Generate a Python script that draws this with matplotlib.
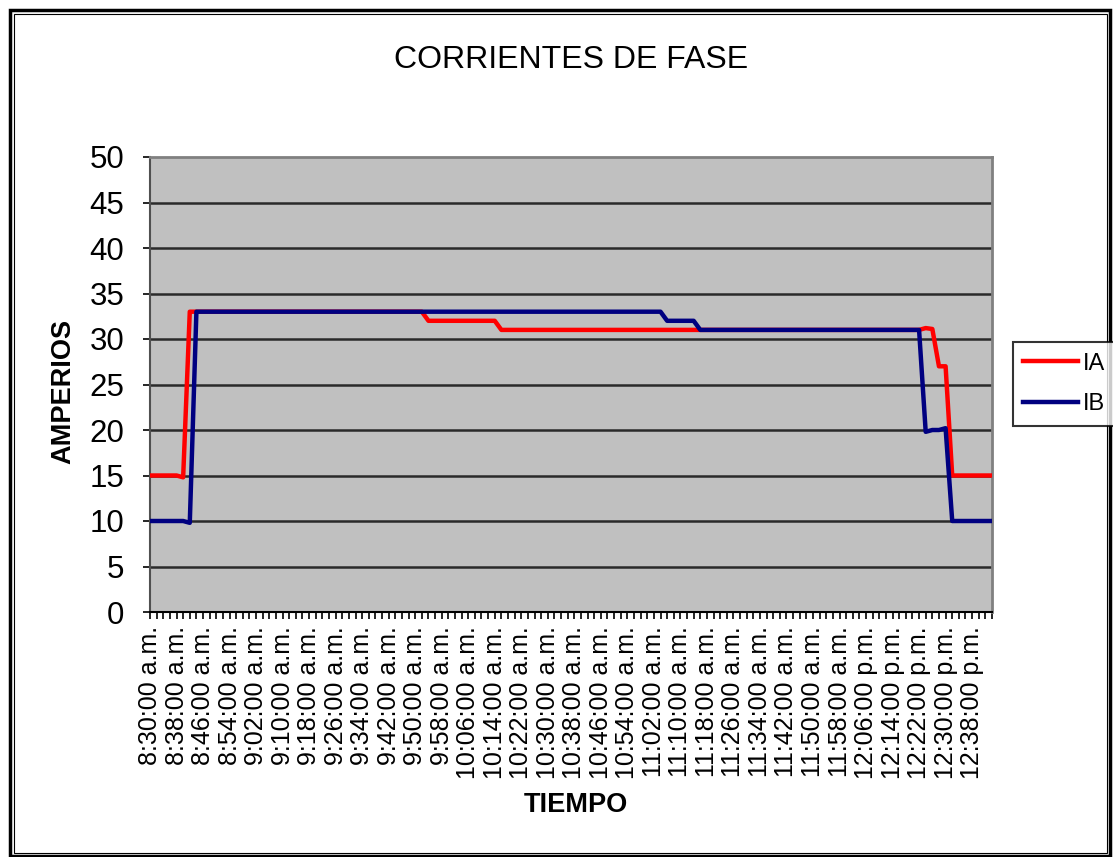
import matplotlib
matplotlib.use("Agg")
import matplotlib.pyplot as plt
from matplotlib.patches import Rectangle
import numpy as np

plt.rcParams['font.family'] = ['Liberation Sans', 'DejaVu Sans']

# readings every 2 minutes, 8:30 a.m. -> 12:44 p.m.
ia = [15, 15, 15, 15, 15, 14.8, 33, 33, 33, 33, 33, 33, 33, 33, 33, 33,
      33, 33, 33, 33, 33, 33, 33, 33, 33, 33, 33, 33, 33, 33, 33, 33,
      33, 33, 33, 33, 33, 33, 33, 33, 33, 33, 32, 32, 32, 32, 32, 32,
      32, 32, 32, 32, 32, 31, 31, 31, 31, 31, 31, 31, 31, 31, 31, 31,
      31, 31, 31, 31, 31, 31, 31, 31, 31, 31, 31, 31, 31, 31, 31, 31,
      31, 31, 31, 31, 31, 31, 31, 31, 31, 31, 31, 31, 31, 31, 31, 31,
      31, 31, 31, 31, 31, 31, 31, 31, 31, 31, 31, 31, 31, 31, 31, 31,
      31, 31, 31, 31, 31, 31.2, 31.1, 27, 27, 15, 15, 15, 15, 15, 15, 15]

ib = [10, 10, 10, 10, 10, 10, 9.8, 33, 33, 33, 33, 33, 33, 33, 33, 33,
      33, 33, 33, 33, 33, 33, 33, 33, 33, 33, 33, 33, 33, 33, 33, 33,
      33, 33, 33, 33, 33, 33, 33, 33, 33, 33, 33, 33, 33, 33, 33, 33,
      33, 33, 33, 33, 33, 33, 33, 33, 33, 33, 33, 33, 33, 33, 33, 33,
      33, 33, 33, 33, 33, 33, 33, 33, 33, 33, 33, 33, 33, 33, 32, 32,
      32, 32, 32, 31, 31, 31, 31, 31, 31, 31, 31, 31, 31, 31, 31, 31,
      31, 31, 31, 31, 31, 31, 31, 31, 31, 31, 31, 31, 31, 31, 31, 31,
      31, 31, 31, 31, 31, 19.8, 20, 20, 20.2, 10, 10, 10, 10, 10, 10, 10]

# every 4th reading gets a label
etiquetas = ['8:30:00 a.m.', '8:38:00 a.m.', '8:46:00 a.m.', '8:54:00 a.m.',
             '9:02:00 a.m.', '9:10:00 a.m.', '9:18:00 a.m.', '9:26:00 a.m.',
             '9:34:00 a.m.', '9:42:00 a.m.', '9:50:00 a.m.', '9:58:00 a.m.',
             '10:06:00 a.m.', '10:14:00 a.m.', '10:22:00 a.m.', '10:30:00 a.m.',
             '10:38:00 a.m.', '10:46:00 a.m.', '10:54:00 a.m.', '11:02:00 a.m.',
             '11:10:00 a.m.', '11:18:00 a.m.', '11:26:00 a.m.', '11:34:00 a.m.',
             '11:42:00 a.m.', '11:50:00 a.m.', '11:58:00 a.m.', '12:06:00 p.m.',
             '12:14:00 p.m.', '12:22:00 p.m.', '12:30:00 p.m.', '12:38:00 p.m.']

W, H = 1113, 857
fig = plt.figure(figsize=(W / 100, H / 100), dpi=100)
fig.patch.set_facecolor('white')

L, R, T, B = 150, 992, 157, 612
ax = fig.add_axes([L / W, 1 - B / H, (R - L) / W, (B - T) / H])
ax.set_facecolor('#c0c0c0')

x = np.arange(len(ia))
l1, = ax.plot(x, ia, color='#ff0000', lw=3.2, solid_joinstyle='round', zorder=3)
l2, = ax.plot(x, ib, color='#000080', lw=3.2, solid_joinstyle='round', zorder=4)

ax.set_xlim(0, len(ia) - 1)
ax.set_ylim(0, 50)
ax.set_yticks(range(0, 51, 5))
for v in range(5, 50, 5):
    ax.axhline(v, color='#2a2a2a', lw=1.8, zorder=1)

ax.set_xticks(x[::4])
ax.set_xticklabels(etiquetas, rotation=90, fontsize=18)
ax.set_xticks(x, minor=True)
ax.tick_params(axis='x', which='both', direction='out', length=5, width=1.2, pad=5)
ax.tick_params(axis='y', direction='out', length=5, width=1.2, labelsize=22.5, pad=13.5)

for s in ('top', 'right'):
    ax.spines[s].set_color('#808080')
    ax.spines[s].set_linewidth(2)
ax.spines['left'].set_color('#505050')
ax.spines['left'].set_linewidth(1.5)
ax.spines['bottom'].set_color('black')
ax.spines['bottom'].set_linewidth(1.5)

fig.text(571 / W, 1 - 60 / H, 'CORRIENTES DE FASE', ha='center', va='center', fontsize=23)
fig.text(63 / W, 1 - 391 / H, 'AMPERIOS', ha='center', va='center', rotation=90,
         fontsize=19.5, fontweight='bold')
fig.text(576 / W, 1 - 805 / H, 'TIEMPO', ha='center', va='center',
         fontsize=19.5, fontweight='bold')

leg = fig.legend([l1, l2], ['IA', 'IB'], loc='center',
                 bbox_to_anchor=(1064 / W, 1 - 384 / H), fontsize=17,
                 frameon=True, fancybox=False, handlelength=2.3, handletextpad=0.2,
                 labelspacing=0.8, borderpad=0.45, borderaxespad=0)
leg.get_frame().set_edgecolor('black')
leg.get_frame().set_linewidth(1.5)

# double border round the whole chart
fig.patches.append(Rectangle((10 / W, 1 - 856 / H), 1100 / W, 846 / H, fill=False,
                             ec='black', lw=2.5, transform=fig.transFigure))
fig.patches.append(Rectangle((13.5 / W, 1 - 853 / H), 1093 / W, 839 / H, fill=False,
                             ec='black', lw=0.8, transform=fig.transFigure))

fig.savefig('out.png', dpi=100)
